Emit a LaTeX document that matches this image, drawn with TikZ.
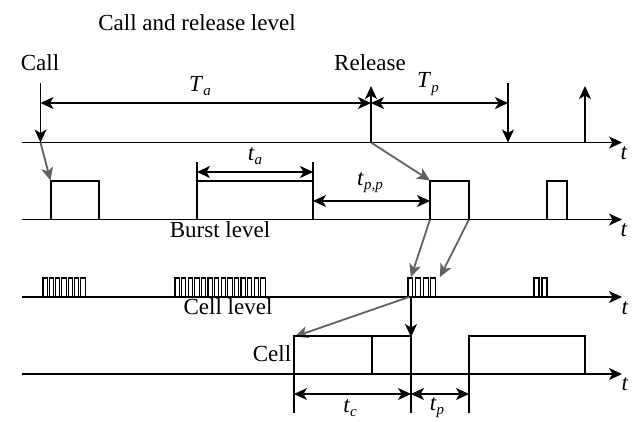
\documentclass[tikz,border=0pt]{standalone}
\usepackage{fontspec}
\setmainfont{Liberation Serif}
\usetikzlibrary{arrows.meta}
\newcommand{\lab}[2]{\textit{#1}\raisebox{-0.4ex}{\fontsize{15}{15}\selectfont\textit{#2}}}
\tikzset{
  tip/.tip={Stealth[length=13pt,width=12pt,inset=3.5pt]},
  axis/.style={line width=1.4pt,-tip},
  blk/.style={line width=1.3pt,-tip},
  dim/.style={line width=1.2pt,tip-tip},
  gry/.style={line width=1.8pt,draw=black!62,-tip},
  pulse/.style={line width=1.2pt},
  txt/.style={font=\fontsize{23}{27}\selectfont,inner sep=0pt},
  tl/.style={font=\fontsize{23}{27}\selectfont,inner sep=0pt}
}
\begin{document}
\begin{tikzpicture}[x=1pt,y=-1pt]
\useasboundingbox (0,0) rectangle (637,421);
% axes
\foreach \n/\y in {1/142.5,2/219.5,3/297,4/374}{
  \coordinate (s\n) at (22,\y);
  \coordinate (e\n) at (622,\y);
  \draw[axis] (s\n) -- (e\n);
}
\node[tl] (t1) at (624,153) {\textit{t}};
\node[tl] (t2) at (624,230) {\textit{t}};
\node[tl] (t3) at (625,308) {\textit{t}};
\node[tl] (t4) at (625,384) {\textit{t}};
% labels
\node[txt] (title) at (197,23) {Call and release level};
\node[txt] (call) at (40,63) {Call};
\node[txt] (rel) at (370,63) {Release};
\node[txt] (Ta) at (200,86) {\lab{T}{a}};
\node[txt] (Tp) at (428,84) {\lab{T}{p}};
\node[txt] (ta) at (255,156) {\lab{t}{a}};
\node[txt] (tpp) at (370,183) {\lab{t}{p,p}};
\node[txt] (burst) at (220,230) {Burst level};
\node[txt] (cellv) at (228,307) {Cell level};
\node[txt] (cell) at (272,354) {Cell};
\node[txt] (tc) at (350,408) {\lab{t}{c}};
\node[txt] (tp) at (437,408) {\lab{t}{p}};
% call level
\coordinate (c0) at (40.5,83);
\coordinate (c1) at (40.5,142.5);
\coordinate (r0) at (371,142.5);
\coordinate (r1) at (371,86);
\coordinate (d0) at (508,83);
\coordinate (d1) at (508,142.5);
\coordinate (u0) at (585,142.5);
\coordinate (u1) at (585,86);
\draw[blk] (c0) -- (c1);
\draw[blk] (r0) -- (r1);
\draw[blk] (d0) -- (d1);
\draw[blk] (u0) -- (u1);
\draw[dim] (40.5,103) -- (371,103);
\draw[dim] (371,103) -- (508,103);
% gray arrows to burst level
\coordinate (b1) at (50.5,180.5);
\coordinate (b3) at (430,180.5);
\draw[gry] (c1) -- (b1);
\draw[gry] (r0) -- (b3);
% burst level
\draw[pulse] (51,219.5) |- (99,181) -- (99,219.5);
\draw[pulse] (197,219.5) -- (197,162);
\draw[pulse] (313,219.5) -- (313,162);
\draw[pulse] (197,181) -- (313,181);
\draw[dim] (197,172) -- (313,172);
\draw[dim] (313,201) -- (430,201);
\draw[pulse] (430,219.5) |- (469,181) -- (469,219.5);
\draw[pulse] (547,219.5) |- (567,181) -- (567,219.5);
% gray arrows to cell level
\coordinate (p3l) at (430,219.5);
\coordinate (p3r) at (469,219.5);
\coordinate (g3l) at (411,277);
\coordinate (g3r) at (440,277);
\draw[gry] (p3l) -- (g3l);
\draw[gry] (p3r) -- (g3r);
% cell level pulses
\foreach \xs/\n/\p/\w in {43/7/6.3/4.3, 175/14/6.6/4.3, 408/4/7.6/4.9, 534/2/8/5}{
  \pgfmathtruncatemacro{\m}{\n-1}
  \foreach \i in {0,...,\m}{
    \draw[line width=1.1pt] (\xs+\i*\p,297) |- (\xs+\i*\p+\w,278) -- (\xs+\i*\p+\w,297);
  }
}
% cell detail
\coordinate (k0) at (409,297);
\coordinate (k1) at (295,336.5);
\coordinate (m0) at (411,297);
\coordinate (m1) at (411,337);
\draw[gry] (k0) -- (k1);
\draw[blk] (m0) -- (m1);
\draw[pulse] (294,413) |- (411,336) -- (411,413);
\draw[pulse] (372,336) -- (372,374);
\draw[pulse] (469,413) |- (585,336) -- (585,374);
\draw[dim] (294,394) -- (411,394);
\draw[dim] (411,394) -- (469,394);
\end{tikzpicture}
\end{document}
